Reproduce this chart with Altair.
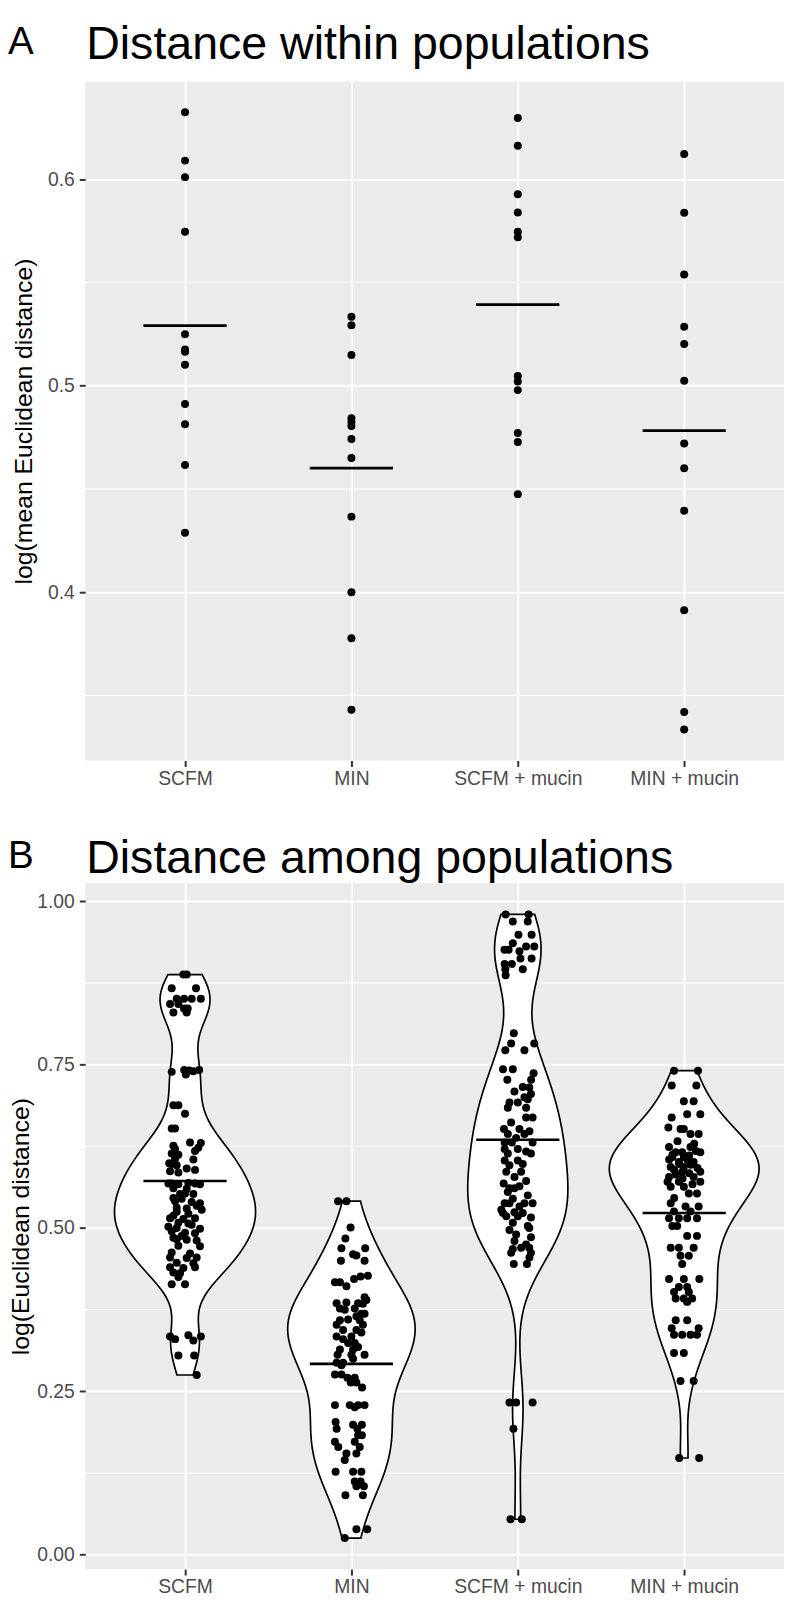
import altair as alt
import pandas as pd

CATEGORIES = ["SCFM", "MIN", "SCFM + mucin", "MIN + mucin"]

# ---------------- Panel A: distance within populations ----------------
WITHIN_SCFM = [0.6325, 0.6091, 0.6011, 0.5746, 0.5250, 0.5176, 0.5165, 0.5102, 0.4912, 0.4814, 0.4616, 0.4288]
WITHIN_MIN = [0.5334, 0.5293, 0.5149, 0.4843, 0.4825, 0.4805, 0.4742, 0.4650, 0.4366, 0.4000, 0.3777, 0.3430]
WITHIN_SCFM_MUCIN = [0.6298, 0.6163, 0.5928, 0.5840, 0.5746, 0.5720, 0.5048, 0.5021, 0.4979, 0.4771, 0.4728, 0.4475]
WITHIN_MIN_MUCIN = [0.6123, 0.5838, 0.5539, 0.5286, 0.5203, 0.5024, 0.4720, 0.4600, 0.4395, 0.3912, 0.3419, 0.3334]

# ---------------- Panel B: distance among populations ----------------
AMONG_SCFM = [0.888, 0.888, 0.867, 0.867, 0.851, 0.851, 0.851, 0.851, 0.843, 0.843, 0.836, 0.836, 0.830, 0.830,
              0.739, 0.742, 0.741, 0.740, 0.742, 0.735,
              0.688, 0.688, 0.675, 0.6525, 0.6525,
              0.631, 0.630, 0.626, 0.623, 0.621, 0.618, 0.614, 0.612, 0.606, 0.605, 0.599, 0.598, 0.596, 0.591, 0.589, 0.587, 0.585,
              0.568, 0.568, 0.567, 0.569, 0.568, 0.567, 0.561, 0.560, 0.553, 0.552, 0.546, 0.545, 0.541, 0.540, 0.538,
              0.531, 0.530, 0.528, 0.525, 0.522, 0.515, 0.514, 0.515, 0.508, 0.507, 0.502, 0.500, 0.499, 0.495, 0.493,
              0.492, 0.485, 0.483, 0.482, 0.481, 0.473, 0.472, 0.4625, 0.461, 0.455, 0.454, 0.455, 0.447, 0.446, 0.440,
              0.439, 0.440, 0.432, 0.431, 0.425, 0.414, 0.414,
              0.334, 0.330, 0.336, 0.328, 0.334, 0.305, 0.305, 0.275,
              0.552, 0.534, 0.519, 0.505, 0.488]
AMONG_SCFM_JITTER = [-0.01, 0.01, -0.08, 0.066, -0.05, -0.006, 0.04, 0.095, -0.09, -0.04, -0.006, 0.016, -0.07, 0.01,
                     -0.08, -0.005, 0.025, 0.05, 0.085, 0.005,
                     -0.07, -0.04, 0.0, -0.08, -0.06,
                     0.03, 0.095, -0.07, 0.08, -0.06, 0.06, -0.08, -0.04, -0.06, 0.05, -0.095, -0.08, -0.05, 0.01, 0.06, -0.09, -0.04,
                     -0.1, -0.08, -0.04, 0.02, 0.06, 0.09, -0.07, 0.01, 0.0, 0.05, -0.07, -0.02, -0.06, 0.04, 0.09,
                     -0.05, 0.01, 0.1, -0.05, 0.02, -0.09, -0.01, 0.06, -0.04, 0.02, -0.1, -0.05, 0.09, -0.08, 0.0,
                     0.06, -0.07, -0.05, 0.01, 0.07, -0.04, 0.09, -0.08, 0.03, -0.09, 0.01, 0.07, -0.05, 0.05, -0.09,
                     -0.01, 0.06, -0.07, -0.03, -0.04, -0.08, 0.0,
                     -0.09, -0.06, 0.02, 0.05, 0.095, -0.04, 0.055, 0.07,
                     -0.03, 0.07, -0.07, 0.04, -0.02]

AMONG_MIN = [0.541, 0.541, 0.501, 0.484, 0.469, 0.469, 0.460, 0.458, 0.450, 0.450,
             0.426, 0.427, 0.422, 0.417, 0.417, 0.411, 0.394,
             0.385, 0.386, 0.385, 0.384, 0.377, 0.377, 0.369, 0.369,
             0.359, 0.360, 0.359, 0.352, 0.352, 0.344, 0.344,
             0.334, 0.334, 0.324, 0.324, 0.314, 0.314, 0.306, 0.306, 0.306,
             0.294, 0.294, 0.276, 0.276, 0.271, 0.271, 0.2635, 0.2635, 0.256,
             0.229, 0.229, 0.229, 0.229, 0.2257, 0.203, 0.199, 0.199, 0.193, 0.193,
             0.183, 0.183, 0.173, 0.173, 0.165, 0.165, 0.155, 0.155, 0.145,
             0.127, 0.127, 0.127, 0.112, 0.112, 0.105, 0.105, 0.091, 0.091, 0.039, 0.039, 0.0257,
             0.290, 0.300, 0.390, 0.375, 0.365, 0.340, 0.330, 0.318]
AMONG_MIN_JITTER = [-0.08, -0.03, -0.005, -0.036, -0.06, 0.083, 0.01, 0.03, -0.063, 0.079,
                    0.055, 0.099, 0.016, -0.099, -0.069, -0.03, 0.079,
                    -0.089, -0.03, 0.04, 0.069, -0.069, 0.02, 0.06, 0.079,
                    -0.069, -0.02, 0.05, -0.089, 0.069, -0.05, 0.03,
                    -0.089, 0.0, -0.02, 0.02, -0.069, 0.01, -0.083, 0.0, 0.079,
                    -0.089, -0.05, -0.099, -0.06, -0.024, 0.02, -0.004, 0.03, 0.064,
                    -0.099, -0.01, 0.04, 0.079, 0.02, -0.095, 0.01, 0.063, -0.089, 0.036,
                    0.04, 0.063, -0.099, 0.02, -0.079, 0.05, -0.03, 0.03, -0.04,
                    -0.095, 0.01, 0.06, 0.02, 0.055, 0.03, 0.075, -0.036, 0.069, 0.03, 0.095, -0.04,
                    -0.06, 0.01, 0.09, -0.04, 0.03, 0.06, -0.05, 0.04]

AMONG_SCFM_MUCIN = [0.980, 0.980, 0.969, 0.969, 0.949, 0.949, 0.936, 0.931, 0.931, 0.926, 0.926, 0.9235, 0.9125, 0.9125,
                    0.904, 0.904, 0.896, 0.896, 0.887,
                    0.798, 0.7825, 0.7825, 0.772, 0.772,
                    0.743, 0.743, 0.737, 0.727, 0.727, 0.716, 0.709,
                    0.697, 0.692, 0.692, 0.684, 0.684, 0.669, 0.669, 0.6616, 0.6515, 0.6515,
                    0.648, 0.644, 0.644, 0.638, 0.631, 0.631, 0.631,
                    0.621, 0.621, 0.617, 0.614, 0.614, 0.6035, 0.6035, 0.470,
                    0.598, 0.596, 0.705, 0.468, 0.586, 0.586, 0.715, 0.578,
                    0.572, 0.568, 0.564, 0.561, 0.561, 0.700, 0.462, 0.555,
                    0.550, 0.545, 0.538, 0.538, 0.538, 0.538, 0.533, 0.528,
                    0.524, 0.523, 0.523, 0.518, 0.518, 0.516, 0.508, 0.503,
                    0.500, 0.497, 0.490, 0.486, 0.480, 0.475,
                    0.470, 0.462, 0.455, 0.445, 0.445,
                    0.233, 0.233, 0.233, 0.193, 0.0544, 0.0544]
AMONG_SCFM_MUCIN_JITTER = [-0.073, 0.065, -0.03, 0.06, 0.004, 0.083, -0.03, 0.05, 0.099, -0.08, -0.055, 0.01, 0.016, 0.083,
                           -0.079, -0.036, -0.075, 0.03, -0.073,
                           -0.024, -0.04, 0.099, -0.075, 0.04,
                           -0.089, -0.03, 0.095, -0.063, 0.08, 0.03, -0.02,
                           0.06, -0.05, 0.0, 0.05, -0.06, 0.05, 0.089, -0.04, -0.083, 0.01,
                           0.07, -0.06, 0.04, -0.01, -0.079, -0.036, 0.089,
                           -0.079, 0.0, 0.05, -0.06, 0.079, -0.079, 0.0, 0.069,
                           0.03, -0.05, 0.079, -0.03, -0.069, 0.02, 0.069, -0.02,
                           0.05, -0.085, 0.01, -0.05, -0.02, 0.04, 0.079, -0.06,
                           0.06, -0.03, -0.079, -0.05, 0.04, 0.089, 0.01, -0.099,
                           -0.02, -0.089, 0.03, -0.069, 0.0, 0.079, -0.03, 0.06,
                           0.069, -0.05, -0.01, 0.079, -0.02, 0.05,
                           0.02, -0.04, 0.07, -0.024, 0.055,
                           -0.05, -0.01, 0.089, -0.026, -0.044, 0.024]

AMONG_MIN_MUCIN = [0.7406, 0.7406, 0.718, 0.718, 0.694, 0.694, 0.674, 0.674, 0.669,
                   0.654, 0.6515, 0.6515, 0.644, 0.644, 0.624, 0.624, 0.616, 0.616, 0.616,
                   0.6087, 0.6087, 0.601, 0.601, 0.5936, 0.5936, 0.586, 0.586, 0.578, 0.578, 0.571, 0.571, 0.571,
                   0.5633, 0.5633, 0.553, 0.553,
                   0.538, 0.533, 0.533, 0.5255, 0.5255, 0.515, 0.515, 0.515, 0.515, 0.503, 0.503, 0.488, 0.488,
                   0.470, 0.470, 0.470, 0.4575, 0.4575, 0.445, 0.422, 0.422, 0.422, 0.4096, 0.4096, 0.402, 0.402,
                   0.392, 0.392, 0.392, 0.387,
                   0.359, 0.359, 0.3466, 0.3466, 0.3366, 0.3366, 0.3366, 0.3366, 0.3088, 0.3088, 0.266, 0.266, 0.148, 0.148,
                   0.633, 0.629, 0.611, 0.605, 0.597, 0.582, 0.567, 0.546, 0.618,
                   0.612, 0.604, 0.598, 0.592, 0.589, 0.584, 0.576]
AMONG_MIN_MUCIN_JITTER = [-0.061, 0.083, -0.075, 0.073, -0.002, 0.057, 0.018, 0.097, -0.075,
                          -0.095, -0.022, -0.002, 0.038, 0.087, -0.091, 0.038, -0.051, -0.012, 0.097,
                          -0.071, -0.002, -0.032, 0.057, -0.081, -0.002, -0.012, 0.097, -0.091, 0.057, -0.1, -0.032, 0.097,
                          -0.081, -0.002, 0.028, 0.077,
                          -0.081, 0.008, 0.087, -0.061, 0.038, -0.091, -0.032, 0.018, 0.077, -0.071, -0.042, 0.018, 0.077,
                          -0.081, -0.032, 0.057, -0.022, 0.028, -0.012, -0.091, -0.002, 0.091, -0.032, 0.018, -0.061, 0.028,
                          -0.051, -0.002, 0.048, 0.018,
                          -0.051, 0.018, -0.075, 0.087, -0.061, -0.012, 0.038, 0.077, -0.061, -0.002, -0.022, 0.057, -0.03, 0.09,
                          -0.04, 0.06, 0.03, -0.09, 0.04, -0.05, 0.05, -0.06, 0.07,
                          -0.07, 0.02, -0.03, 0.08, -0.06, 0.03, -0.01]

A_MAJOR_TICKS = [0.4, 0.5, 0.6]
A_MINOR_TICKS = [0.35, 0.45, 0.55]
B_MAJOR_TICKS = [0.0, 0.25, 0.5, 0.75, 1.0]
B_MINOR_TICKS = [0.125, 0.375, 0.625, 0.875]

TITLE_A = "Distance within populations"
TITLE_B = "Distance among populations"
YTITLE_A = "log(mean Euclidean distance)"
YTITLE_B = "log(Euclidean distance)"

# ---------------- data tables ----------------
dfA = pd.concat([pd.DataFrame({"group": g, "value": v}) for g, v in
                 zip(CATEGORIES, [WITHIN_SCFM, WITHIN_MIN, WITHIN_SCFM_MUCIN, WITHIN_MIN_MUCIN])],
                ignore_index=True)
dfB = pd.concat([pd.DataFrame({"group": g, "value": v, "jitter": j}) for g, v, j in
                 zip(CATEGORIES,
                     [AMONG_SCFM, AMONG_MIN, AMONG_SCFM_MUCIN, AMONG_MIN_MUCIN],
                     [AMONG_SCFM_JITTER, AMONG_MIN_JITTER, AMONG_SCFM_MUCIN_JITTER, AMONG_MIN_MUCIN_JITTER])],
                ignore_index=True)


def expanded(values, mult=0.05):
    lo, hi = float(min(values)), float(max(values))
    r = hi - lo
    return [lo - mult * r, hi + mult * r]


FONT = "Liberation Sans"
W = 706
HA = 686
HB = 693
TICK_FS = 19.5
DOT = 65

cat_js = "[" + ", ".join('"%s"' % c for c in CATEGORIES) + "]"
IDX_EXPR = "indexof(%s, datum.group) + 1" % cat_js
LABEL_EXPR = '["", ' + ", ".join('"%s"' % c for c in CATEGORIES) + "][datum.value]"

x_scale = alt.Scale(domain=[0.4, 4.6], nice=False, zero=False)
x_axis = alt.Axis(values=[1, 2, 3, 4], labelExpr=LABEL_EXPR, title=None, grid=True,
                  gridColor="white", gridWidth=2, domain=False, tickColor="#333333",
                  tickWidth=2, tickSize=6, labelFont=FONT, labelFontSize=TICK_FS,
                  labelColor="#4D4D4D", labelPadding=3, labelOverlap=False, labelFlush=False)


def y_axis(values, fmt, title, height, title_x):
    return alt.Axis(values=values, format=fmt, title=title, grid=True, gridColor="white",
                    gridWidth=2, domain=False, tickColor="#333333", tickWidth=2, tickSize=6,
                    labelFont=FONT, labelFontSize=TICK_FS, labelColor="#4D4D4D", labelPadding=5,
                    titleFont=FONT, titleFontSize=25, titleFontWeight="normal", titleColor="black",
                    titleAngle=270, titleX=title_x, titleY=height / 2, titleAlign="center",
                    titleBaseline="alphabetic", orient="left")


def letter(txt, y):
    return alt.Chart(pd.DataFrame({"label": [txt]})).mark_text(
        font=FONT, fontSize=39, align="left", baseline="alphabetic", color="black"
    ).encode(text="label:N", x=alt.value(-78), y=alt.value(y))


def heading(txt, y):
    return alt.Chart(pd.DataFrame({"label": [txt]})).mark_text(
        font=FONT, fontSize=47, align="left", baseline="alphabetic", color="black"
    ).encode(text="label:N", x=alt.value(1), y=alt.value(y))


# ---------------- Panel A ----------------
yA_scale = alt.Scale(domain=expanded(dfA["value"]), nice=False, zero=False)
yA_axis = y_axis(A_MAJOR_TICKS, ".1f", YTITLE_A, HA, -54)

gridA = alt.Chart(pd.DataFrame({"tick": A_MINOR_TICKS})).mark_rule(color="white", strokeWidth=1).encode(
    y=alt.Y("tick:Q", scale=yA_scale, axis=yA_axis))
pointsA = alt.Chart(dfA).transform_calculate(idx=IDX_EXPR).mark_circle(
    size=DOT, color="black", opacity=1).encode(
    x=alt.X("idx:Q", scale=x_scale, axis=x_axis),
    y=alt.Y("value:Q", scale=yA_scale, axis=yA_axis))
meanA = alt.Chart(dfA).transform_aggregate(mean="mean(value)", groupby=["group"]).transform_calculate(
    idx=IDX_EXPR, x1="datum.idx - 0.25", x2="datum.idx + 0.25").mark_rule(
    color="black", strokeWidth=2.6).encode(
    x=alt.X("x1:Q", scale=x_scale, axis=x_axis), x2="x2:Q",
    y=alt.Y("mean:Q", scale=yA_scale, axis=yA_axis))

panelA = alt.layer(gridA, pointsA, meanA, letter("A", -28), heading(TITLE_A, -23)).properties(width=W, height=HA)

# ---------------- Panel B ----------------
yB_scale = alt.Scale(domain=expanded(dfB["value"]), nice=False, zero=False)
yB_axis = y_axis(B_MAJOR_TICKS, ".2f", YTITLE_B, HB, -57)

gridB = alt.Chart(pd.DataFrame({"tick": B_MINOR_TICKS})).mark_rule(color="white", strokeWidth=1).encode(
    y=alt.Y("tick:Q", scale=yB_scale, axis=yB_axis))

# violin: Gaussian KDE per group with R's nrd0 bandwidth, trimmed to the data range,
# widths scaled so that the widest violin is 0.9 category units (ggplot scale = "area")
violinB = alt.Chart(dfB).transform_joinaggregate(
    lo="min(value)", hi="max(value)", sd="stdev(value)", q1="q1(value)", q3="q3(value)", n="count()",
    groupby=["group"]
).transform_calculate(
    bw="0.9 * min(datum.sd, (datum.q3 - datum.q1) / 1.34) * pow(datum.n, -0.2)"
).transform_calculate(
    z="datum.value / datum.bw"
).transform_density(
    "z", groupby=["group", "lo", "hi", "bw"], bandwidth=1, extent=[0, 32], steps=3201, as_=["z", "dz"]
).transform_calculate(
    value="datum.z * datum.bw"
).transform_calculate(
    density="datum.dz / datum.bw"
).transform_filter(
    "datum.value >= datum.lo - 0.006 * datum.bw && datum.value <= datum.hi + 0.006 * datum.bw"
).transform_joinaggregate(
    maxd="max(density)"
).transform_calculate(
    idx=IDX_EXPR,
).transform_calculate(
    xl="datum.idx - 0.45 * datum.density / datum.maxd",
    xr="datum.idx + 0.45 * datum.density / datum.maxd",
).mark_area(orient="horizontal", fill="white", stroke="black", strokeWidth=1.7, opacity=1).encode(
    y=alt.Y("value:Q", scale=yB_scale, axis=yB_axis),
    x=alt.X("xl:Q", scale=x_scale, axis=x_axis), x2="xr:Q",
    detail="group:N")

pointsB = alt.Chart(dfB).transform_calculate(idx=IDX_EXPR).transform_calculate(
    px="datum.idx + datum.jitter").mark_circle(size=DOT, color="black", opacity=1).encode(
    x=alt.X("px:Q", scale=x_scale, axis=x_axis),
    y=alt.Y("value:Q", scale=yB_scale, axis=yB_axis))

meanB = alt.Chart(dfB).transform_aggregate(mean="mean(value)", groupby=["group"]).transform_calculate(
    idx=IDX_EXPR, x1="datum.idx - 0.25", x2="datum.idx + 0.25").mark_rule(
    color="black", strokeWidth=2.6).encode(
    x=alt.X("x1:Q", scale=x_scale, axis=x_axis), x2="x2:Q",
    y=alt.Y("mean:Q", scale=yB_scale, axis=yB_axis))

panelB = alt.layer(gridB, violinB, pointsB, meanB, letter("B", -15), heading(TITLE_B, -10)).properties(
    width=W, height=HB)

chart = alt.vconcat(panelA, panelB, spacing=48).properties(
    padding={"left": 0, "top": 5, "right": 0, "bottom": 0},
    background="white"
).configure_view(fill="#EBEBEB", stroke=None)

chart.save("out.html", embed_options={"renderer": "svg", "actions": False})
